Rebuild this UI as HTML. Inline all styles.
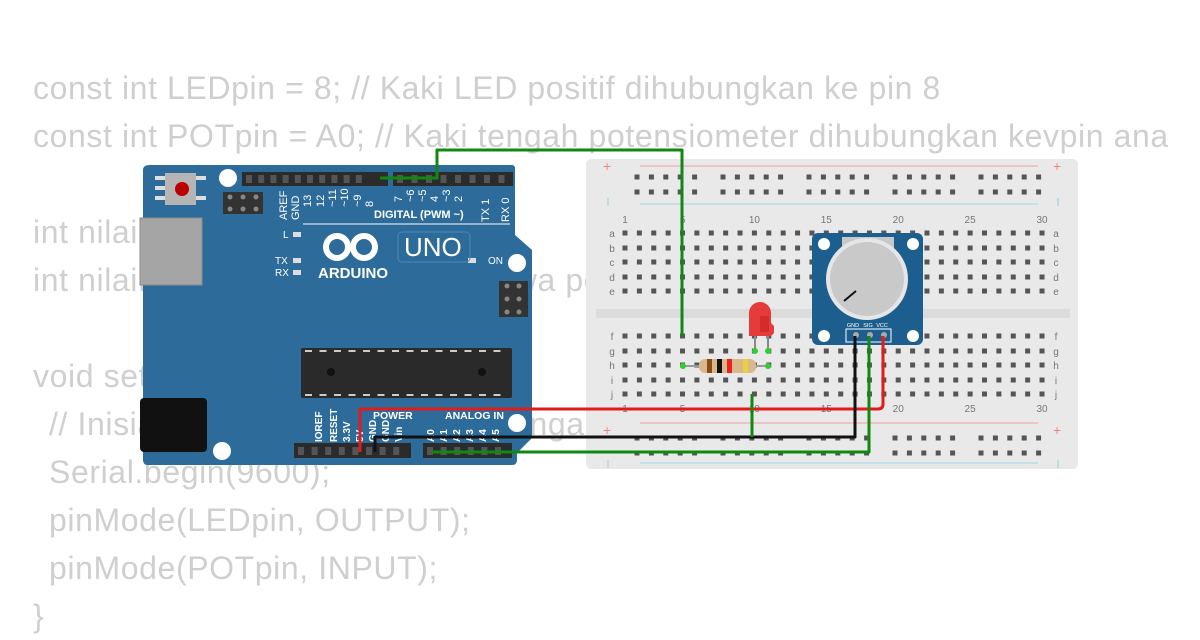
<!DOCTYPE html>
<html><head><meta charset="utf-8"><style>
html,body{margin:0;padding:0;background:#fff;width:1200px;height:630px;overflow:hidden}
.code{position:absolute;left:33px;top:0;width:1135px;overflow:hidden;font-family:"Liberation Sans",sans-serif;font-size:32px;letter-spacing:0.6px;color:#cfcfcf;white-space:pre;line-height:48px}
.ind{padding-left:16px}
svg{position:absolute;left:0;top:0}
</style></head><body>
<div class="code" style="top:64px">const int LEDpin = 8; // Kaki LED positif dihubungkan ke pin 8
const int POTpin = A0; // Kaki tengah potensiometer dihubungkan kevpin analog

int nilaiPot = 0;
int nilaiLED = 0; // variabel yg bawa pot

void setup() {
<span class="ind">// Inisialisasi pin dan ke serial dengan</span>
<span class="ind">Serial.begin(9600);</span>
<span class="ind">pinMode(LEDpin, OUTPUT);</span>
<span class="ind">pinMode(POTpin, INPUT);</span>
}</div>
<svg width="1200" height="630" viewBox="0 0 1200 630" font-family="Liberation Sans, sans-serif">
<rect x="586" y="159" width="492" height="310" rx="5" fill="#e9e9e9"/>
<rect x="596" y="309" width="474" height="9" fill="#dcdcdc"/>
<line x1="640" y1="166" x2="1038" y2="166" stroke="#f0a0a0" stroke-width="1"/>
<line x1="640" y1="204" x2="1038" y2="204" stroke="#a0d8e8" stroke-width="1"/>
<line x1="640" y1="423" x2="1038" y2="423" stroke="#f0a0a0" stroke-width="1"/>
<line x1="640" y1="463" x2="1038" y2="463" stroke="#a0d8e8" stroke-width="1"/>
<g fill="#e88" font-size="14"><text x="603" y="171">+</text><text x="1053" y="171">+</text><text x="603" y="435">+</text><text x="1053" y="435">+</text></g>
<g stroke="#9cd" stroke-width="1"><line x1="608" y1="198" x2="608" y2="206"/><line x1="1058" y1="198" x2="1058" y2="206"/><line x1="608" y1="460" x2="608" y2="468"/><line x1="1058" y1="460" x2="1058" y2="468"/></g>
<g id="holes" fill="#555"></g>
<g fill="#777" font-size="10" text-anchor="middle" id="lbl"></g>

<rect x="812" y="233" width="111" height="112" rx="6" fill="#1c5f8f"/>
<rect x="842" y="237" width="52" height="12" fill="#c8c8c8"/>
<circle cx="824" cy="244" r="6" fill="#fff"/><circle cx="913" cy="244" r="6" fill="#fff"/>
<circle cx="824" cy="336" r="6" fill="#fff"/><circle cx="913" cy="336" r="6" fill="#fff"/>
<circle cx="867" cy="279" r="41" fill="#e6e6e6"/>
<circle cx="867" cy="279" r="37" fill="#c9c9c9"/>
<line x1="844" y1="301" x2="856" y2="291" stroke="#111" stroke-width="2"/>
<g fill="#fff" font-size="5.5" text-anchor="middle"><text x="853" y="327">GND</text><text x="868" y="327">SIG</text><text x="882" y="327">VCC</text></g>
<rect x="846" y="329" width="45" height="13" fill="none" stroke="#fff" stroke-width="1"/>
<circle cx="856" cy="335" r="3" fill="#aaa"/><circle cx="870" cy="335" r="3" fill="#aaa"/><circle cx="884" cy="335" r="3" fill="#aaa"/>

<line x1="755" y1="335" x2="755" y2="351" stroke="#888" stroke-width="2"/>
<line x1="768" y1="335" x2="768" y2="351" stroke="#888" stroke-width="2"/>
<path d="M749,336 L749,313 A11,11 0 0 1 771,313 L771,323 L774,326 L774,333 L771,336 Z" fill="#e53b3b"/>
<rect x="760" y="316" width="9" height="16" fill="#c22" opacity="0.6"/>
<circle cx="755" cy="351" r="3" fill="#3c3"/><circle cx="768" cy="351" r="3" fill="#3c3"/>

<line x1="683" y1="366" x2="768" y2="366" stroke="#999" stroke-width="2"/>
<rect x="699" y="359" width="57" height="14" rx="6" fill="#d9b98b"/>
<rect x="707" y="359" width="5" height="14" fill="#8b4a1a"/>
<rect x="717" y="359" width="5" height="14" fill="#111"/>
<rect x="727" y="359" width="5" height="14" fill="#e22"/>
<rect x="743" y="359" width="5" height="14" fill="#ead040"/>
<circle cx="683" cy="366" r="3" fill="#3c3"/><circle cx="768" cy="366" r="3" fill="#3c3"/>

<path d="M150,165 L513,165 L515,167 L515,235 L532,250 L532,438 L517,453 L517,460 Q517,465 512,465 L148,465 Q143,465 143,460 L143,170 Q143,165 150,165 Z" fill="#2c6b9a"/>
<rect x="140" y="218" width="62" height="67" fill="#a5a5a5" stroke="#8c8c8c"/>
<rect x="140" y="398" width="67" height="54" rx="4" fill="#111"/>
<rect x="165" y="173" width="31" height="32" fill="#b5b5b5"/>
<rect x="155" y="176" width="10" height="4" fill="#ddd"/><rect x="155" y="186" width="10" height="4" fill="#ddd"/><rect x="155" y="196" width="10" height="4" fill="#ddd"/>
<rect x="196" y="176" width="10" height="4" fill="#ddd"/><rect x="196" y="196" width="10" height="4" fill="#ddd"/>
<circle cx="182" cy="189" r="7" fill="#b00"/>
<circle cx="228" cy="178" r="9" fill="#fff"/><circle cx="517" cy="263" r="9" fill="#fff"/>
<circle cx="517" cy="423" r="9" fill="#fff"/><circle cx="222" cy="451" r="9" fill="#fff"/>
<rect x="223" y="192" width="40" height="22" fill="#333"/>
<g fill="#888"><circle cx="230" cy="197" r="2.5"/><circle cx="243" cy="197" r="2.5"/><circle cx="256" cy="197" r="2.5"/><circle cx="230" cy="209" r="2.5"/><circle cx="243" cy="209" r="2.5"/><circle cx="256" cy="209" r="2.5"/></g>
<rect x="499" y="281" width="29" height="36" fill="#333"/>
<g fill="#888"><circle cx="507" cy="286" r="2.5"/><circle cx="519" cy="286" r="2.5"/><circle cx="507" cy="299" r="2.5"/><circle cx="519" cy="299" r="2.5"/><circle cx="507" cy="312" r="2.5"/><circle cx="519" cy="312" r="2.5"/></g>
<rect x="242" y="172" width="146" height="14" fill="#2b2b2b"/>
<rect x="393" y="172" width="120" height="14" fill="#2b2b2b"/>
<rect x="294" y="443" width="117" height="15" fill="#2b2b2b"/>
<rect x="423" y="443" width="89" height="15" fill="#2b2b2b"/>
<g id="pins" fill="#555"></g>
<g fill="#fff" font-size="11">
<text transform="translate(287,220) rotate(-90)">AREF</text>
<text transform="translate(299,220) rotate(-90)">GND</text>
<text transform="translate(311,207) rotate(-90)">13</text>
<text transform="translate(324,207) rotate(-90)">12</text>
<text transform="translate(336,207) rotate(-90)">~11</text>
<text transform="translate(348,207) rotate(-90)">~10</text>
<text transform="translate(361,207) rotate(-90)">~9</text>
<text transform="translate(373,207) rotate(-90)">8</text>
<text transform="translate(402,202) rotate(-90)">7</text>
<text transform="translate(414,202) rotate(-90)">~6</text>
<text transform="translate(426,202) rotate(-90)">~5</text>
<text transform="translate(438,202) rotate(-90)">4</text>
<text transform="translate(450,202) rotate(-90)">~3</text>
<text transform="translate(462,202) rotate(-90)">2</text>
<text transform="translate(489,222) rotate(-90)">TX 1</text>
<text transform="translate(509,222) rotate(-90)">RX 0</text>
<text x="374" y="218" font-weight="bold" font-size="11">DIGITAL (PWM ~)</text>
<text x="283" y="238" font-size="10">L</text>
<text x="275" y="264" font-size="10">TX</text>
<text x="275" y="276" font-size="10">RX</text>
<text x="488" y="264" font-size="10">ON</text>
<text x="318" y="278" font-weight="bold" font-size="15">ARDUINO</text>
<text x="404" y="256" font-size="26">UNO</text>
<text x="373" y="419" font-weight="bold" font-size="10.5">POWER</text>
<text x="445" y="419" font-weight="bold" font-size="10.5">ANALOG IN</text>
<text transform="translate(322,442) rotate(-90)" font-weight="bold" font-size="10">IOREF</text>
<text transform="translate(337,442) rotate(-90)" font-weight="bold" font-size="10">RESET</text>
<text transform="translate(350,442) rotate(-90)" font-weight="bold" font-size="10">3.3V</text>
<text transform="translate(363,442) rotate(-90)" font-weight="bold" font-size="10">5V</text>
<text transform="translate(376,442) rotate(-90)" font-weight="bold" font-size="10">GND</text>
<text transform="translate(389,442) rotate(-90)" font-weight="bold" font-size="10">GND</text>
<text transform="translate(402,442) rotate(-90)" font-weight="bold" font-size="10">Vin</text>
<text transform="translate(434,442) rotate(-90)" font-weight="bold" font-size="10">A0</text>
<text transform="translate(447,442) rotate(-90)" font-weight="bold" font-size="10">A1</text>
<text transform="translate(460,442) rotate(-90)" font-weight="bold" font-size="10">A2</text>
<text transform="translate(473,442) rotate(-90)" font-weight="bold" font-size="10">A3</text>
<text transform="translate(486,442) rotate(-90)" font-weight="bold" font-size="10">A4</text>
<text transform="translate(499,442) rotate(-90)" font-weight="bold" font-size="10">A5</text>
</g>
<line x1="303" y1="224" x2="510" y2="224" stroke="#fff" stroke-width="1"/>
<g fill="#ddd"><rect x="293" y="232" width="8" height="5"/><rect x="293" y="258" width="8" height="5"/><rect x="293" y="270" width="8" height="5"/><rect x="468" y="258" width="8" height="5"/></g>
<g fill="none" stroke="#fff" stroke-width="6"><circle cx="337" cy="247" r="11"/><circle cx="364" cy="247" r="11"/></g>
<g stroke="#2c6b9a" stroke-width="2.5"><line x1="332" y1="247" x2="342" y2="247"/><line x1="359" y1="247" x2="369" y2="247"/><line x1="364" y1="242" x2="364" y2="252"/></g>
<rect x="398" y="232" width="72" height="30" rx="4" fill="none" stroke="#4d88b5"/>
<rect x="301" y="348" width="211" height="50" rx="2" fill="#2a2a2a"/>
<g fill="#111"><circle cx="331" cy="372" r="4"/><circle cx="482" cy="372" r="4"/></g>
<g id="chippins" fill="#ccc"></g>

<g fill="none" stroke-width="3" stroke-linejoin="round">
<path d="M380,178 L437,178 L437,150 L682,150 L682,336" stroke="#118811"/>
<path d="M360,452 L360,409 L878,409 Q883,409 883,404 L883,336" stroke="#e21b1b"/>
<path d="M375,452 L375,437 L855,437 L855,336" stroke="#111"/>
<path d="M432,452 L869,452 L869,336" stroke="#118811"/>
<path d="M752,394 L752,437" stroke="#118811"/>
</g>
</svg>
<script>
var ns="http://www.w3.org/2000/svg";
function r(g,x,y,w,h,f){var e=document.createElementNS(ns,"rect");e.setAttribute("x",x);e.setAttribute("y",y);e.setAttribute("width",w);e.setAttribute("height",h);if(f)e.setAttribute("fill",f);g.appendChild(e);}
function t(g,x,y,s){var e=document.createElementNS(ns,"text");e.setAttribute("x",x);e.setAttribute("y",y);e.textContent=s;g.appendChild(e);}
var H=document.getElementById("holes"),L=document.getElementById("lbl");
var sp=14.38;
for(var c=0;c<30;c++){var x=625+c*sp;
 [233,248,262,277,291,336,351,365,380,394].forEach(function(y){r(H,x-2.5,y-2.5,5,5);});}
for(var gi=0;gi<5;gi++)for(var k=0;k<5;k++){var x=637+gi*86+k*14.4;
 [177,192,438,453].forEach(function(y){r(H,x-2.5,y-2.5,5,5);});}
[1,5,10,15,20,25,30].forEach(function(n){var x=625+(n-1)*sp;t(L,x,223,n);t(L,x,412,n);});
"abcde".split("").forEach(function(ch,i){var y=[233,248,262,277,291][i]+4;t(L,612,y,ch);t(L,1056,y,ch);});
"fghij".split("").forEach(function(ch,i){var y=[336,351,365,380,394][i]+4;t(L,612,y,ch);t(L,1056,y,ch);});
var P=document.getElementById("pins");
for(var i=0;i<10;i++)r(P,246+i*12.2,175,6,8);
for(var i=0;i<8;i++)r(P,397+i*14.5,175,6,8);
for(var i=0;i<8;i++)r(P,298+i*13.6,447,6,8);
for(var i=0;i<6;i++)r(P,427+i*13.6,447,6,8);
var C=document.getElementById("chippins");
for(var i=0;i<14;i++){r(C,305+i*14.5,350,7,2);r(C,305+i*14.5,394,7,2);}
</script>
</body></html>
